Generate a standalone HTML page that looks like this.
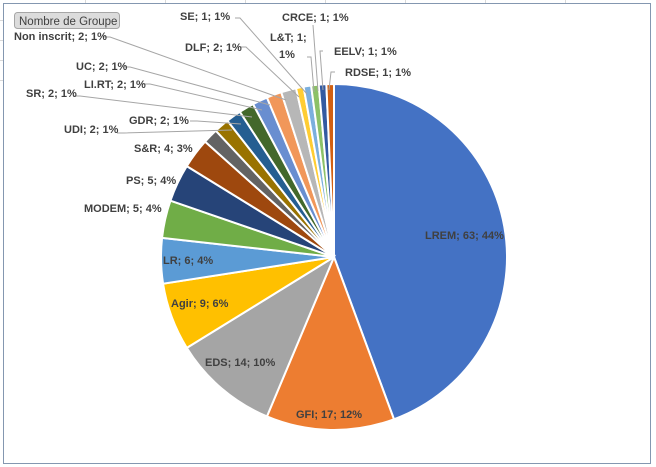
<!DOCTYPE html>
<html><head><meta charset="utf-8"><style>
body{margin:0;background:#fff;}
svg{display:block;font-family:"Liberation Sans",sans-serif;}
text{font-size:11px;font-weight:bold;fill:#404040;}
</style></head><body>
<svg id="s" width="656" height="467" xmlns="http://www.w3.org/2000/svg">
<rect x="0" y="0" width="656" height="467" fill="#fff"/>
<g stroke="#d9d9d9" stroke-width="1">
<line x1="0" y1="20.5" x2="3" y2="20.5"/><line x1="0" y1="40.5" x2="3" y2="40.5"/><line x1="0" y1="60.5" x2="3" y2="60.5"/><line x1="0" y1="80.5" x2="3" y2="80.5"/>
<line x1="85.5" y1="0" x2="85.5" y2="3"/><line x1="165.5" y1="0" x2="165.5" y2="3"/><line x1="245.5" y1="0" x2="245.5" y2="3"/><line x1="325.5" y1="0" x2="325.5" y2="3"/><line x1="405.5" y1="0" x2="405.5" y2="3"/><line x1="485.5" y1="0" x2="485.5" y2="3"/><line x1="565.5" y1="0" x2="565.5" y2="3"/>
</g>
<rect x="3.5" y="3.5" width="647" height="460" fill="#fff" stroke="#8497b0" stroke-width="1"/>
<g id="pie"></g>
<g stroke="#a6a6a6" stroke-width="1" fill="none">
<polyline points="104,37 110,37 286,100"/>
<polyline points="125,67 130,67 270,105"/>
<polyline points="143,84 150,84 262,110"/>
<polyline points="73,96 80,96 252,117"/>
<polyline points="190,121 197,121 241,124"/>
<polyline points="117,133 124,133 232,130"/>
<polyline points="240,47 246,47 299,97"/>
<polyline points="235,18 240,18 307,94"/>
<polyline points="307,57 311,57 314,92"/>
<polyline points="313,25 313,25 318,91"/>
<polyline points="323,51 320,51 323,90"/>
<polyline points="335,72 331,72 329,90"/>
</g>
<g>
<text x="14" y="40">Non inscrit; 2; 1%</text>
<text x="76" y="70">UC; 2; 1%</text>
<text x="84" y="88">LI.RT; 2; 1%</text>
<text x="26" y="97">SR; 2; 1%</text>
<text x="129" y="124">GDR; 2; 1%</text>
<text x="64" y="133">UDI; 2; 1%</text>
<text x="134" y="152">S&amp;R; 4; 3%</text>
<text x="126" y="184">PS; 5; 4%</text>
<text x="84" y="212">MODEM; 5; 4%</text>
<text x="163" y="264">LR; 6; 4%</text>
<text x="171" y="307">Agir; 9; 6%</text>
<text x="205" y="366">EDS; 14; 10%</text>
<text x="296" y="418">GFI; 17; 12%</text>
<text x="425" y="239">LREM; 63; 44%</text>
<text x="180" y="20">SE; 1; 1%</text>
<text x="185" y="51">DLF; 2; 1%</text>
<text x="270" y="41">L&amp;T; 1;</text>
<text x="279" y="58">1%</text>
<text x="282" y="21">CRCE; 1; 1%</text>
<text x="334" y="55">EELV; 1; 1%</text>
<text x="345" y="76">RDSE; 1; 1%</text>
</g>
<rect x="14.5" y="12.5" width="105" height="16" rx="3" fill="#dcdcdc" stroke="#a6a6a6"/>
<text x="19" y="25" style="font-weight:normal;font-size:11.5px">Nombre de Groupe</text>
</svg>
<script>
var d=[[63,"#4472C4"],[17,"#ED7D31"],[14,"#A5A5A5"],[9,"#FFC000"],[6,"#5B9BD5"],[5,"#70AD47"],[5,"#264478"],[4,"#9E480E"],[2,"#636363"],[2,"#997300"],[2,"#255E91"],[2,"#43682B"],[2,"#698ED0"],[2,"#F1975A"],[2,"#B7B7B7"],[1,"#FFCD33"],[1,"#7CAFDD"],[1,"#8CC168"],[1,"#335AA1"],[1,"#D26012"]];
var cx=334,cy=257,r=173,t=142,a=0,h="";
d.forEach(function(e){var b=a+e[0]/t*2*Math.PI;
var x1=cx+r*Math.sin(a),y1=cy-r*Math.cos(a),x2=cx+r*Math.sin(b),y2=cy-r*Math.cos(b);
h+='<path d="M'+cx+','+cy+'L'+x1+','+y1+'A'+r+','+r+' 0 '+((b-a)>Math.PI?1:0)+' 1 '+x2+','+y2+'Z" fill="'+e[1]+'" stroke="#fff" stroke-width="2"/>';a=b;});
document.getElementById("pie").innerHTML=h;
</script>
</body></html>
